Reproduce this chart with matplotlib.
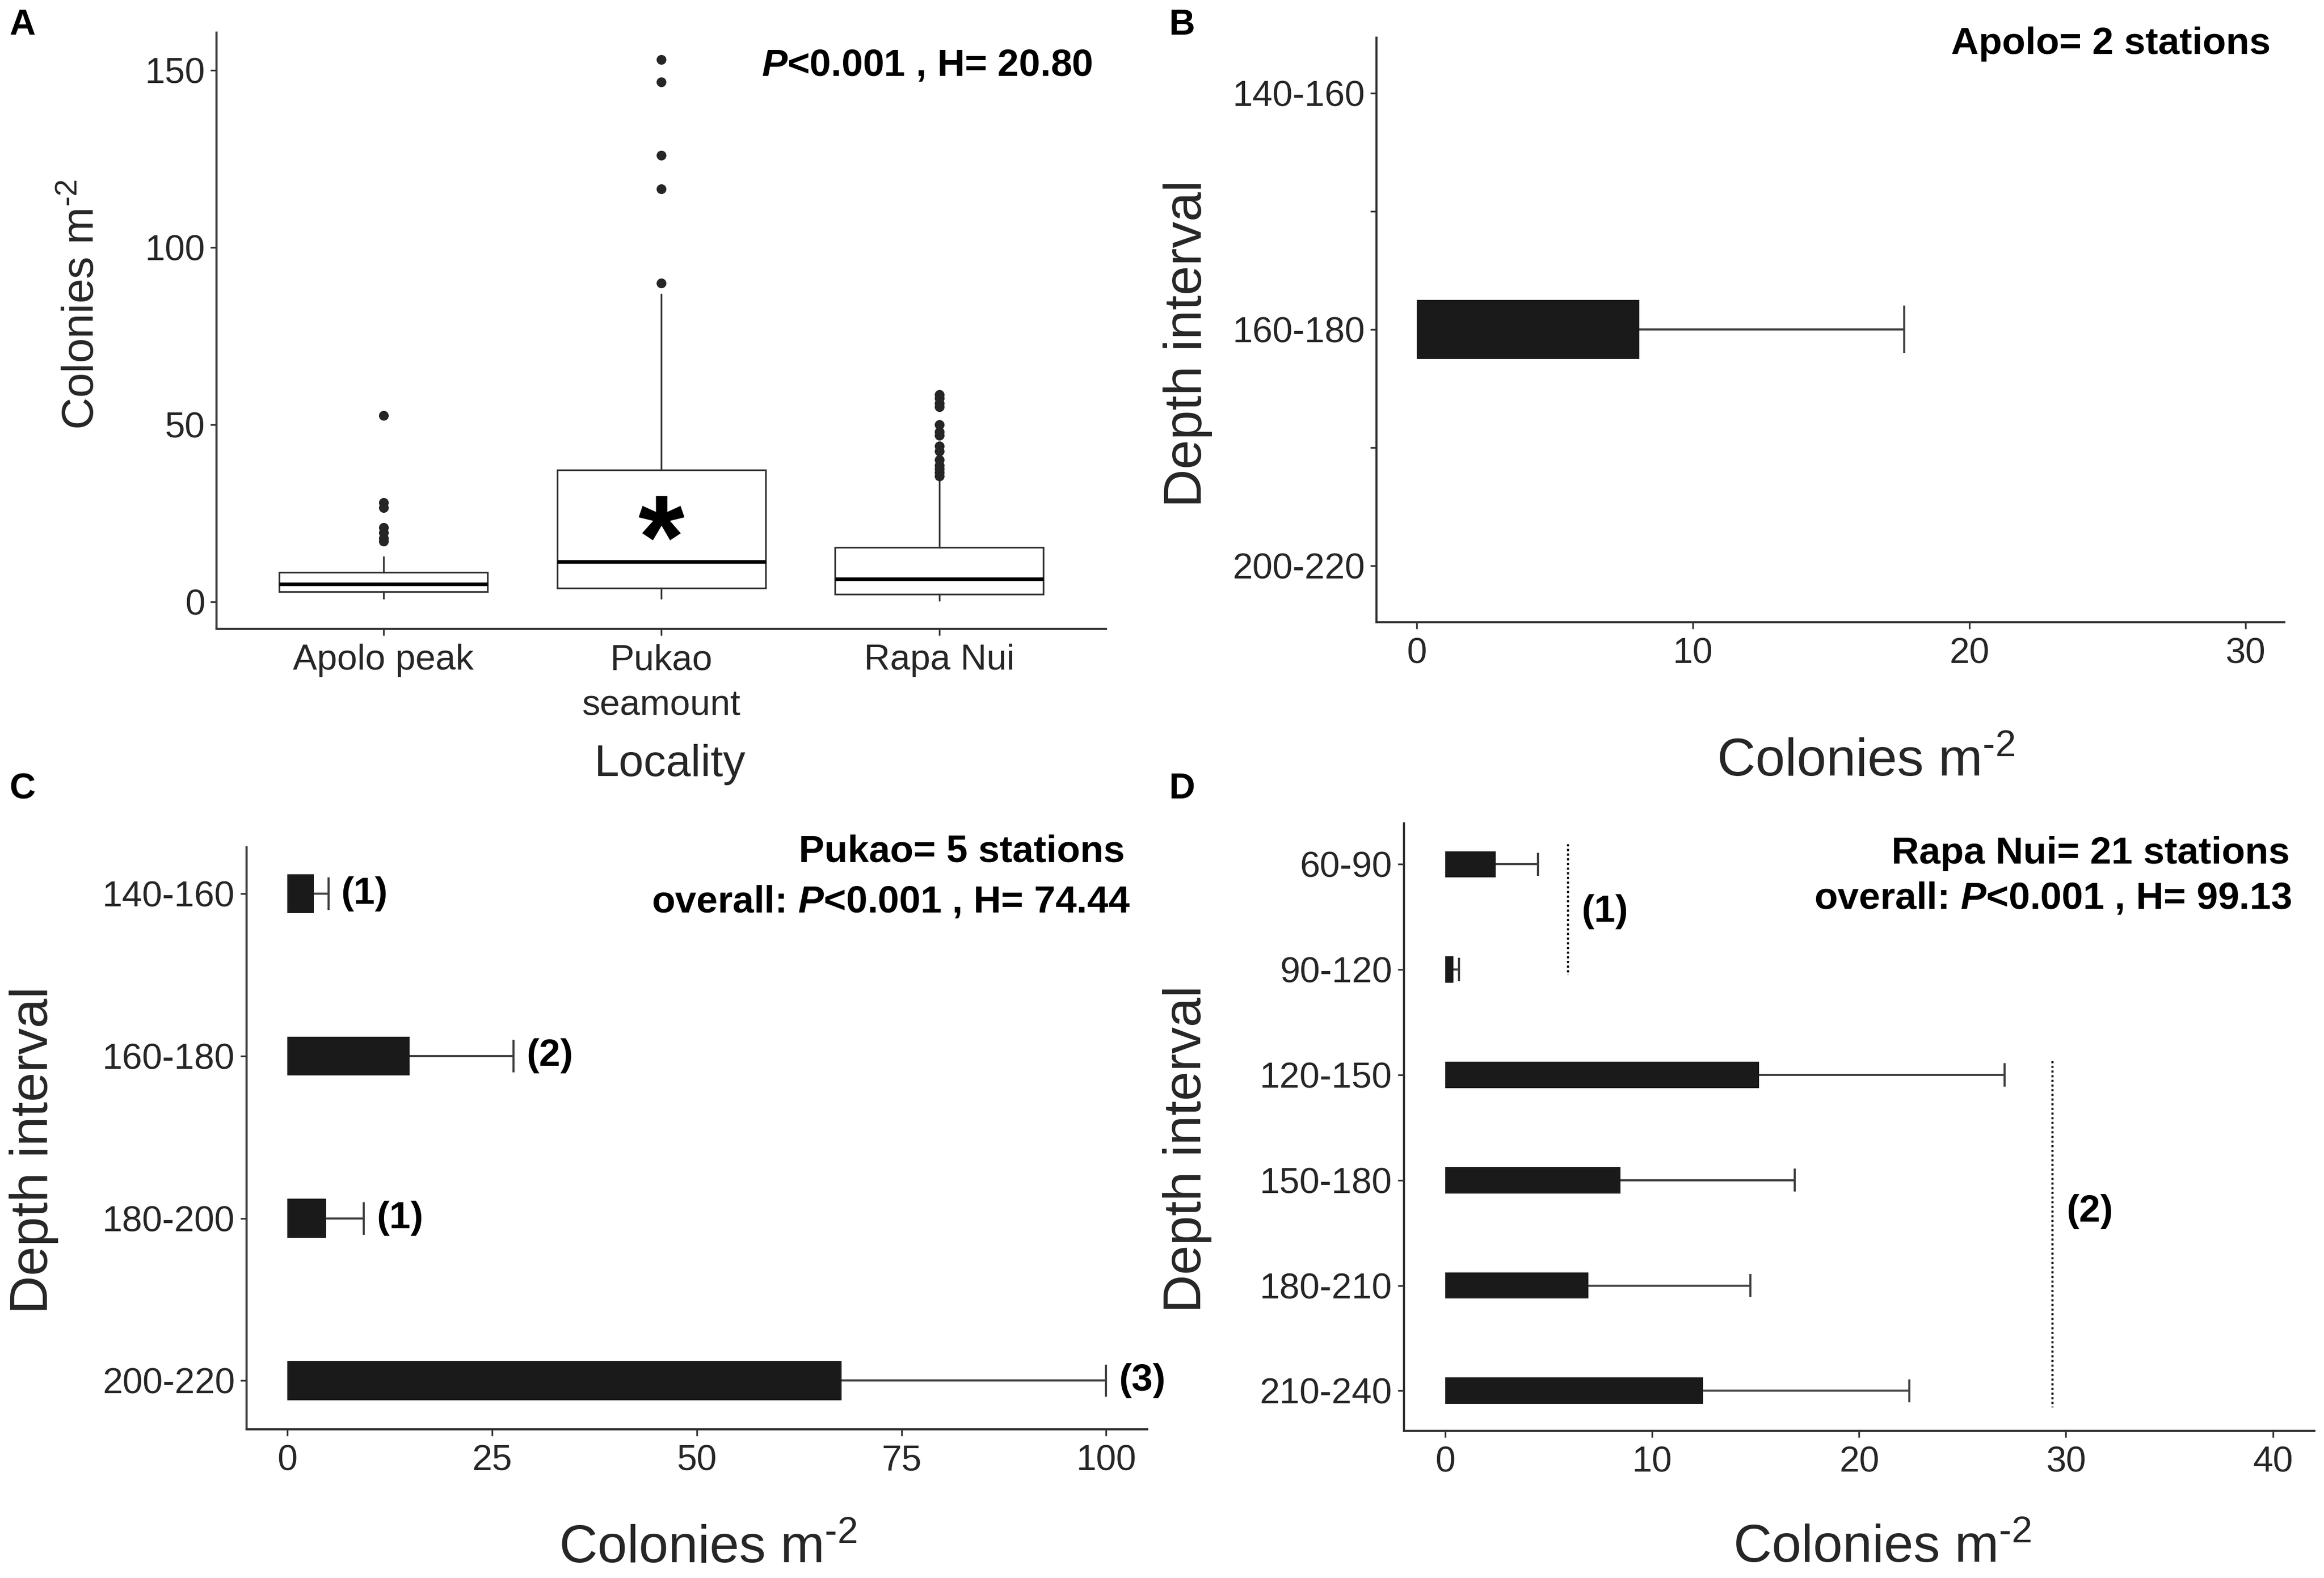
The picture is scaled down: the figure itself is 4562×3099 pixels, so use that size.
import numpy as np
import matplotlib
matplotlib.use('Agg')
from matplotlib import pyplot as plt

plt.rcParams['font.family'] = ['Liberation Sans', 'DejaVu Sans']
plt.rcParams['mathtext.fontset'] = 'custom'
plt.rcParams['mathtext.rm'] = 'Liberation Sans'
plt.rcParams['mathtext.it'] = 'Liberation Sans:italic'
plt.rcParams['mathtext.bf'] = 'Liberation Sans:bold'
plt.rcParams['mathtext.bfit'] = 'Liberation Sans:italic:bold'

# ---- data ----
# A: colonies per m2 by locality (box plot stats)
localities = ['Apolo peak', 'Pukao\nseamount', 'Rapa Nui']
box_q1 = [2.8, 3.8, 2.1]
box_med = [5.0, 11.3, 6.4]
box_q3 = [8.3, 37.2, 15.4]
whisk_lo = [0.9, 0.9, 0.4]
whisk_hi = [12.6, 86.8, 34.5]
outliers = [[52.6, 28.0, 26.5, 21.0, 19.5, 18.0, 17.0],
            [90.0, 116.6, 126.1, 146.7, 153.1],
            [35.5, 36.5, 37.5, 38.5, 40.0, 42.5, 44.0, 47.0, 48.0, 50.0,
             55.0, 56.0, 57.5, 58.5]]

# B: Apolo, by depth interval (mean, sd)
depth_b = ['140-160', '', '160-180', '', '200-220']
mean_b = [np.nan, np.nan, 8.07, np.nan, np.nan]
sd_b = [np.nan, np.nan, 9.58, np.nan, np.nan]

# C: Pukao
depth_c = ['140-160', '160-180', '180-200', '200-220']
mean_c = [3.2, 14.9, 4.7, 67.7]
sd_c = [1.8, 12.7, 4.6, 32.3]
group_c = ['(1)', '(2)', '(1)', '(3)']

# D: Rapa Nui
depth_d = ['60-90', '90-120', '120-150', '150-180', '180-210', '210-240']
mean_d = [2.44, 0.40, 15.17, 8.46, 6.92, 12.45]
sd_d = [2.04, 0.25, 11.87, 8.44, 7.82, 9.97]
group_d = ['(1)', '(2)']
group_x_d = [5.92, 29.34]
group_span_d = [(-0.19, 1.05), (1.87, 5.16)]
group_label_y_d = [0.45, 3.3]

INK = '#262626'
AXC = '#333333'
BAR = '#1a1a1a'
XLAB = r'Colonies m$^{\text{-2}}$'


def style_axes(ax, tick_size=17):
    for s in ['top', 'right']:
        ax.spines[s].set_visible(False)
    for s in ['left', 'bottom']:
        ax.spines[s].set_color(AXC)
        ax.spines[s].set_linewidth(1.0)
    ax.tick_params(direction='out', length=3, width=0.8, color=AXC,
                   labelsize=tick_size, labelcolor=INK)
    ax.tick_params(axis='x', pad=4)
    ax.tick_params(axis='y', pad=2.5)


def place_labels(ax, xl, yl, xpos, ypos, size):
    ax.set_xlabel(xl, fontsize=size, color=INK)
    ax.set_ylabel(yl, fontsize=size, color=INK)
    ax.xaxis.set_label_coords(*xpos)
    ax.yaxis.set_label_coords(*ypos)
    ax.xaxis.label.set_va('center')
    ax.yaxis.label.set_va('center')


def depth_bars(ax, labels, means, sds, cap, bar_h, pad_top, pad_bot, xlim, xticks):
    pos = np.arange(len(labels))
    means = np.asarray(means, float)
    ends = means + np.asarray(sds, float)
    ok = ~np.isnan(means)
    ax.hlines(pos[ok], means[ok], ends[ok], color='#404040', lw=1.0, zorder=1)
    ax.vlines(ends[ok], pos[ok] - cap / 2, pos[ok] + cap / 2, color='#404040', lw=1.0, zorder=1)
    ax.barh(pos[ok], means[ok], height=bar_h, color=BAR, zorder=2)
    ax.set_yticks(pos)
    ax.set_yticklabels(labels)
    ax.set_ylim(len(labels) - 1 + pad_bot, -pad_top)
    ax.set_xlim(*xlim)
    ax.set_xticks(xticks)
    return pos, ends


fig = plt.figure(figsize=(4562 / 300, 3099 / 300), dpi=300)

# ---- A ----
ax_a = fig.add_axes([0.0932, 0.6015, 0.3827, 0.3778])
stats = []
for k in range(len(localities)):
    stats.append(dict(med=box_med[k], q1=box_q1[k], q3=box_q3[k],
                      whislo=whisk_lo[k], whishi=whisk_hi[k], fliers=outliers[k]))
ax_a.bxp(stats, positions=[1, 2, 3], widths=0.75, patch_artist=True, showcaps=False,
         boxprops=dict(facecolor='white', edgecolor=AXC, linewidth=0.8),
         medianprops=dict(color='black', linewidth=1.7),
         whiskerprops=dict(color=AXC, linewidth=0.8),
         flierprops=dict(marker='o', markerfacecolor=INK, markeredgecolor=INK,
                         markersize=3.6, linestyle='none'))
ax_a.set_xlim(0.4, 3.6)
ax_a.set_ylim(-7.65, 160.65)
ax_a.set_yticks([0, 50, 100, 150])
ax_a.set_xticks([1, 2, 3])
ax_a.set_xticklabels(localities, linespacing=1.45)
style_axes(ax_a)
place_labels(ax_a, 'Locality', XLAB, (0.51, -0.228), (-0.151, 0.544), 21)
ax_a.text(2.0, 15.5, '*', fontsize=56, fontweight='bold', ha='center', va='center')
ax_a.text(0.985, 0.945, r'$\mathbfit{P}$<0.001 , H= 20.80', transform=ax_a.transAxes,
          ha='right', va='center', fontsize=18, fontweight='bold')

# ---- B ----
ax_b = fig.add_axes([0.5923, 0.6057, 0.3906, 0.3704])
depth_bars(ax_b, depth_b, mean_b, sd_b, cap=0.4, bar_h=0.5, pad_top=0.47, pad_bot=0.48,
           xlim=(-1.45, 31.4), xticks=[0, 10, 20, 30])
style_axes(ax_b)
place_labels(ax_b, XLAB, 'Depth interval', (0.539, -0.24), (-0.208, 0.477), 25)
ax_b.text(0.985, 0.989, 'Apolo= 2 stations', transform=ax_b.transAxes,
          ha='right', va='center', fontsize=18, fontweight='bold')

# ---- C ----
ax_c = fig.add_axes([0.1061, 0.0942, 0.3875, 0.3688])
pos_c, ends_c = depth_bars(ax_c, depth_c, mean_c, sd_c, cap=0.2, bar_h=0.24,
                           pad_top=0.285, pad_bot=0.30, xlim=(-5, 105),
                           xticks=[0, 25, 50, 75, 100])
for p, e, g in zip(pos_c, ends_c, group_c):
    ax_c.annotate(g, (e, p), xytext=(6, 0), textcoords='offset points',
                  ha='left', va='center', fontsize=18, fontweight='bold', annotation_clip=False)
style_axes(ax_c)
place_labels(ax_c, XLAB, 'Depth interval', (0.512, -0.206), (-0.236, 0.48), 25)
ax_c.text(0.975, 0.992, 'Pukao= 5 stations', transform=ax_c.transAxes,
          ha='right', va='center', fontsize=18, fontweight='bold')
ax_c.text(0.981, 0.906, r'overall: $\mathbfit{P}$<0.001 , H= 74.44', transform=ax_c.transAxes,
          ha='right', va='center', fontsize=18, fontweight='bold')

# ---- D ----
ax_d = fig.add_axes([0.6041, 0.0933, 0.3917, 0.3850])
depth_bars(ax_d, depth_d, mean_d, sd_d, cap=0.22, bar_h=0.25, pad_top=0.39, pad_bot=0.38,
           xlim=(-2, 42), xticks=[0, 10, 20, 30, 40])
for g, gx, (y0, y1), gy in zip(group_d, group_x_d, group_span_d, group_label_y_d):
    ax_d.vlines(gx, y0, y1, colors='black', linestyles=(0, (1, 1.2)), lw=1.0)
    ax_d.annotate(g, (gx, gy), xytext=(6.5, 0), textcoords='offset points',
                  ha='left', va='center', fontsize=18, fontweight='bold')
style_axes(ax_d)
place_labels(ax_d, XLAB, 'Depth interval', (0.525, -0.194), (-0.238, 0.464), 25)
ax_d.text(0.973, 0.950, 'Rapa Nui= 21 stations', transform=ax_d.transAxes,
          ha='right', va='center', fontsize=18, fontweight='bold')
ax_d.text(0.975, 0.876, r'overall: $\mathbfit{P}$<0.001 , H= 99.13', transform=ax_d.transAxes,
          ha='right', va='center', fontsize=18, fontweight='bold')

# panel letters
for lab, x, y in [('A', 0.0096, 0.984), ('B', 0.5085, 0.984),
                  ('C', 0.0096, 0.4998), ('D', 0.5085, 0.4998)]:
    fig.text(x, y, lab, fontsize=17, fontweight='bold', ha='center', va='center')

fig.savefig('out.png', dpi=300, facecolor='white')
